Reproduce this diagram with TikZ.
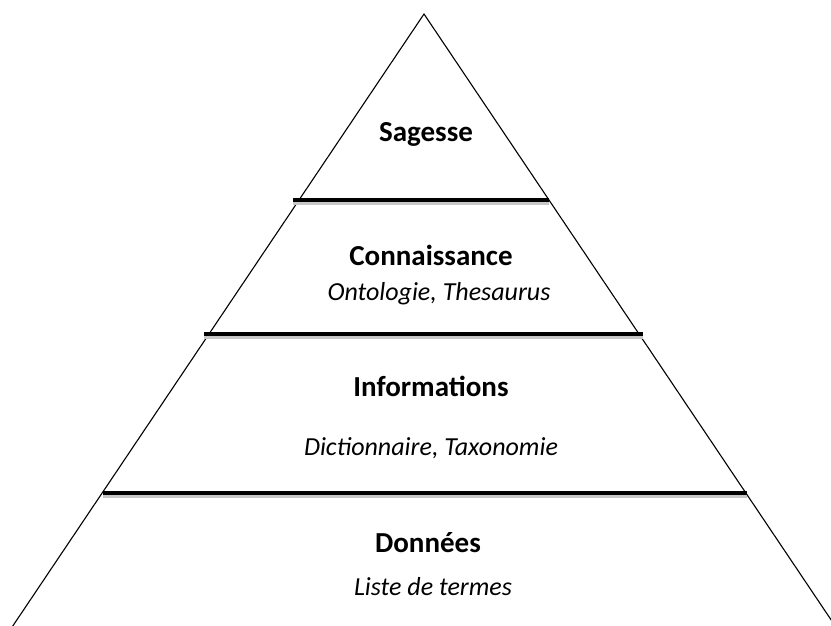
\documentclass[tikz,border=0pt]{standalone}
\usepackage{fontspec}
\setmainfont{Carlito}
\begin{document}
\begin{tikzpicture}[x=1pt,y=-1pt,
  edge/.style={line width=1.1pt, black},
  sepline/.style={line width=3.4pt, black},
  sepshadow/.style={line width=4pt, black!22},
  title/.style={anchor=base, font=\bfseries\fontsize{29}{33}\selectfont, inner sep=0pt},
  sub/.style={anchor=base, font=\itshape\fontsize{26}{30}\selectfont, inner sep=0pt}]
\useasboundingbox (0,0) rectangle (831,625);
\clip (0,0) rectangle (831,625);
\fill[white] (0,0) rectangle (831,625);
\coordinate (apex) at (424,14);
\coordinate (bl) at (0,645);
\coordinate (br) at (848,645);
\draw[edge] (bl) -- (apex) -- (br);
% separators
\coordinate (s1l) at (293,200); \coordinate (s1r) at (549,200);
\coordinate (s2l) at (204,334); \coordinate (s2r) at (643,334);
\coordinate (s3l) at (103,493); \coordinate (s3r) at (747,493);
\foreach \a/\b in {s1l/s1r, s2l/s2r, s3l/s3r}{
  \draw[sepshadow] ([yshift=-3pt]\a) -- ([yshift=-3pt]\b);
  \draw[sepline] (\a) -- (\b);
}
\node[title] (sag) at (426,141) {Sagesse};
\node[title] (con) at (431,265) {Connaissance};
\node[sub] (ont) at (439,300) {Ontologie, Thesaurus};
\node[title] (inf) at (431,396) {Informations};
\node[sub] (dic) at (431,455) {Dictionnaire, Taxonomie};
\node[title] (don) at (428,552) {Données};
\node[sub] (lis) at (433,595) {Liste de termes};
\end{tikzpicture}
\end{document}
